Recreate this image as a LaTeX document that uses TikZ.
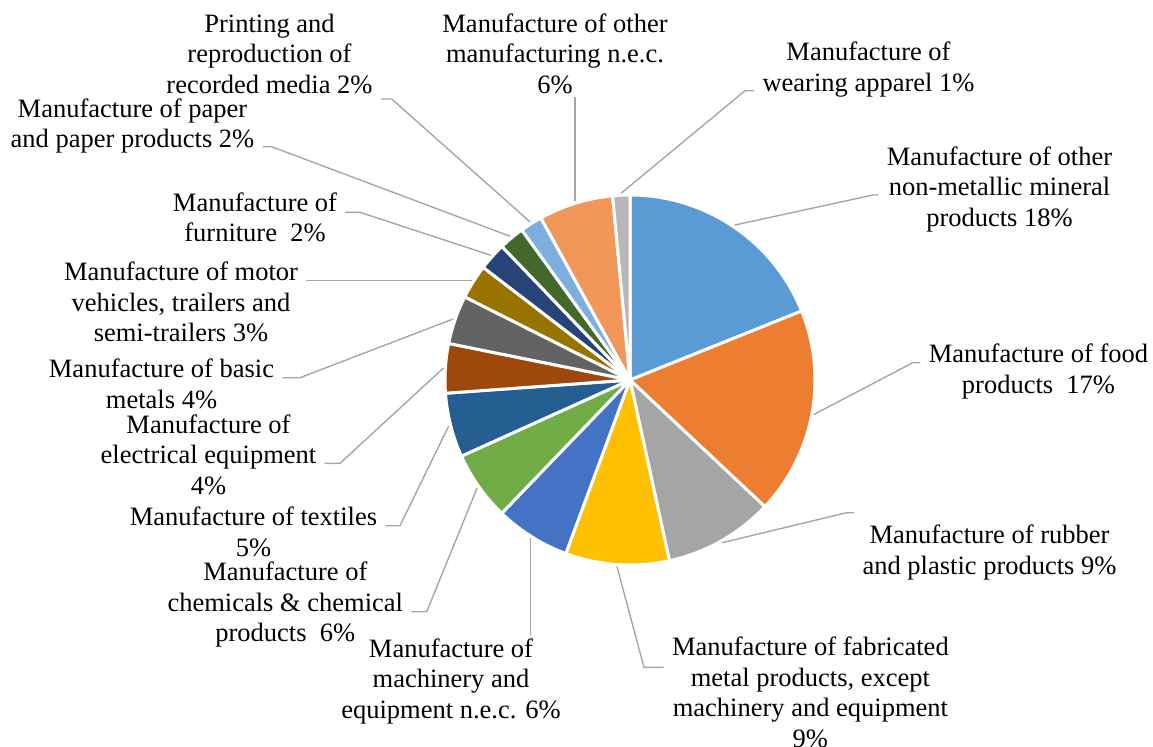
\documentclass[tikz,border=0pt]{standalone}
\usepackage{fontspec}
\setmainfont{Liberation Serif}
\definecolor{c1}{HTML}{5B9BD5}
\definecolor{c2}{HTML}{ED7D31}
\definecolor{c3}{HTML}{A5A5A5}
\definecolor{c4}{HTML}{FFC000}
\definecolor{c5}{HTML}{4472C4}
\definecolor{c6}{HTML}{70AD47}
\definecolor{c7}{HTML}{255E91}
\definecolor{c8}{HTML}{9E480E}
\definecolor{c9}{HTML}{636363}
\definecolor{c10}{HTML}{997300}
\definecolor{c11}{HTML}{264478}
\definecolor{c12}{HTML}{43682B}
\definecolor{c13}{HTML}{7CAFDD}
\definecolor{c14}{HTML}{F1975A}
\definecolor{c15}{HTML}{B7B7B7}
\tikzset{
  lab/.style={align=center, anchor=base, inner xsep=4pt, inner ysep=1.5pt, font=\fontsize{13.25}{15.25}\selectfont},
  lead/.style={draw=gray!70, line width=0.7pt},
  slice/.style={draw=white, line width=1.5pt, line join=round}
}
\begin{document}
\begin{tikzpicture}[x=0.5pt, y=-0.5pt]
\useasboundingbox (0,0) rectangle (1153,746);
% pie, angles clockwise from the right
\begin{scope}[shift={(630,380)}]
\filldraw[slice, fill=c1] (0,0) -- (-90:185) arc[start angle=-90, end angle=-21.9, radius=185] -- cycle;
\filldraw[slice, fill=c2] (0,0) -- (-21.9:185) arc[start angle=-21.9, end angle=43.2, radius=185] -- cycle;
\filldraw[slice, fill=c3] (0,0) -- (43.2:185) arc[start angle=43.2, end angle=77.7, radius=185] -- cycle;
\filldraw[slice, fill=c4] (0,0) -- (77.7:185) arc[start angle=77.7, end angle=110.3, radius=185] -- cycle;
\filldraw[slice, fill=c5] (0,0) -- (110.3:185) arc[start angle=110.3, end angle=133.9, radius=185] -- cycle;
\filldraw[slice, fill=c6] (0,0) -- (133.9:185) arc[start angle=133.9, end angle=155.7, radius=185] -- cycle;
\filldraw[slice, fill=c7] (0,0) -- (155.7:185) arc[start angle=155.7, end angle=175.9, radius=185] -- cycle;
\filldraw[slice, fill=c8] (0,0) -- (175.9:185) arc[start angle=175.9, end angle=191.4, radius=185] -- cycle;
\filldraw[slice, fill=c9] (0,0) -- (191.4:185) arc[start angle=191.4, end angle=206.7, radius=185] -- cycle;
\filldraw[slice, fill=c10] (0,0) -- (206.7:185) arc[start angle=206.7, end angle=217.5, radius=185] -- cycle;
\filldraw[slice, fill=c11] (0,0) -- (217.5:185) arc[start angle=217.5, end angle=226.2, radius=185] -- cycle;
\filldraw[slice, fill=c12] (0,0) -- (226.2:185) arc[start angle=226.2, end angle=234.2, radius=185] -- cycle;
\filldraw[slice, fill=c13] (0,0) -- (234.2:185) arc[start angle=234.2, end angle=241.2, radius=185] -- cycle;
\filldraw[slice, fill=c14] (0,0) -- (241.2:185) arc[start angle=241.2, end angle=264.6, radius=185] -- cycle;
\filldraw[slice, fill=c15] (0,0) -- (264.6:185) arc[start angle=264.6, end angle=270, radius=185] -- cycle;
% where the leaders leave the slices
\coordinate (s1) at (-55.95:187);
\coordinate (s2) at (10.65:187);
\coordinate (s3) at (60.45:187);
\coordinate (s4) at (94:187);
\coordinate (s5) at (122.1:187);
\coordinate (s6) at (144.8:187);
\coordinate (s7) at (165.8:187);
\coordinate (s8) at (183.65:187);
\coordinate (s9) at (199.05:187);
\coordinate (s10) at (212.1:187);
\coordinate (s11) at (221.85:187);
\coordinate (s12) at (230.2:187);
\coordinate (s13) at (237.7:187);
\coordinate (s14) at (252.9:187);
\coordinate (s15) at (267.3:187);
\end{scope}

% labels, placed at the baseline of their last line
\node[lab] (l1) at (999.5,226) {Manufacture of other\\non-metallic mineral\\products 18\%};
\node[lab] (l2) at (1038.5,393.3) {Manufacture of food\\products\ \ 17\%};
\node[lab] (l3) at (989.5,574.3) {Manufacture of rubber\\and plastic products 9\%};
\node[lab] (l4) at (810.4,747) {Manufacture of fabricated\\metal products, except\\machinery and equipment\\9\%};
\node[lab] (l5) at (451,718) {Manufacture of\\machinery and\\equipment n.e.c. 6\%};
\node[lab] (l6) at (285.3,641.7) {Manufacture of\\chemicals \& chemical\\products\ \ 6\%};
\node[lab] (l7) at (253.5,556) {Manufacture of textiles\\5\%};
\node[lab] (l8) at (208.5,494.3) {Manufacture of\\electrical equipment\\4\%};
\node[lab] (l9) at (161.5,408.3) {Manufacture of basic\\metals 4\%};
\node[lab] (l10) at (181,341.7) {Manufacture of motor\\vehicles, trailers and\\semi-trailers 3\%};
\node[lab] (l11) at (255,241.7) {Manufacture of\\furniture\ \ 2\%};
\node[lab] (l12) at (132.5,147.7) {Manufacture of paper\\and paper products 2\%};
\node[lab] (l13) at (269.5,93.3) {Printing and\\reproduction of\\recorded media 2\%};
\node[lab] (l14) at (555,93.3) {Manufacture of other\\manufacturing n.e.c.\\6\%};
\node[lab] (l15) at (868.5,91) {Manufacture of\\wearing apparel 1\%};

\coordinate (k1) at (873,195);
\coordinate (k2) at (912.7,362.7);
\coordinate (k3) at (846.7,512.7);
\coordinate (k4) at (644,667.3);
\coordinate (k6) at (426.7,611.7);
\coordinate (k7) at (400,525.7);
\coordinate (k8) at (340,463.3);
\coordinate (k9) at (300,377.7);
\coordinate (k11) at (360,212.3);
\coordinate (k12) at (271.7,146.7);
\coordinate (k13) at (391.7,99);
\coordinate (k15) at (745,90.7);

\draw[lead] (s1) -- (k1) -- (k1 -| l1.west);
\draw[lead] (s2) -- (k2) -- (k2 -| l2.west);
\draw[lead] (s3) -- (k3) -- (k3 -| l3.west);
\draw[lead] (s4) -- (k4) -- (k4 -| l4.west);
\draw[lead] (s5) -- (s5 |- l5.north);
\draw[lead] (s6) -- (k6) -- (k6 -| l6.east);
\draw[lead] (s7) -- (k7) -- (k7 -| l7.east);
\draw[lead] (s8) -- (k8) -- (k8 -| l8.east);
\draw[lead] (s9) -- (k9) -- (k9 -| l9.east);
\draw[lead] (s10) -- (s10 -| l10.east);
\draw[lead] (s11) -- (k11) -- (k11 -| l11.east);
\draw[lead] (s12) -- (k12) -- (k12 -| l12.east);
\draw[lead] (s13) -- (k13) -- (k13 -| l13.east);
\draw[lead] (s14) -- (s14 |- l14.south);
\draw[lead] (s15) -- (k15) -- (k15 -| l15.west);
\end{tikzpicture}
\end{document}
